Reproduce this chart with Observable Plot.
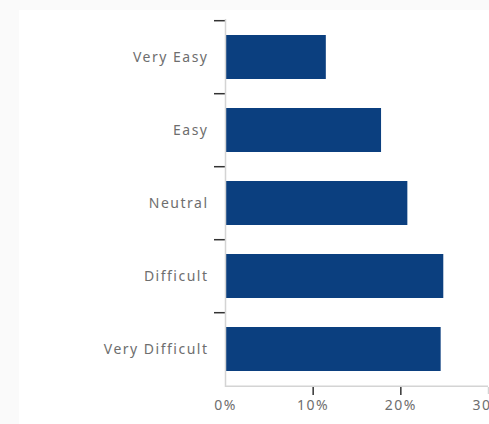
<!DOCTYPE html>
<html>
<head>
<meta charset="utf-8">
<script src="https://cdn.jsdelivr.net/npm/d3@7"></script>
<script src="https://cdn.jsdelivr.net/npm/@observablehq/plot@0.6"></script>
<style>
  html, body { margin: 0; padding: 0; background: #fafafa; width: 489px; height: 424px; overflow: hidden; }
  #panel { position: absolute; left: 19px; top: 10px; right: 0; bottom: 0; background: #ffffff; }
  #chart { position: absolute; left: 0; top: 0; }
  #chart text { letter-spacing: 1.5px; }
</style>
</head>
<body>
<div id="panel"></div>
<div id="chart"></div>
<script>
const categories = ["Very Easy", "Easy", "Neutral", "Difficult", "Very Difficult"];
const shares = [0.115, 0.178, 0.208, 0.249, 0.246];
const xTicks = [0, 0.1, 0.2, 0.3];

const data = categories.map((c, i) => ({category: c, share: shares[i]}));

const W = 489, H = 424, mT = 19, mB = 37, mL = 225, mR = 1;
const step = (H - mT - mB) / categories.length;
const pct = d => Math.round(d * 100) + "%";

const plot = Plot.plot({
  width: W,
  height: H,
  marginTop: mT,
  marginBottom: mB,
  marginLeft: mL,
  marginRight: mR,
  style: {background: "transparent", overflow: "visible", fontFamily: "'Noto Sans', sans-serif", fontSize: "14px", color: "#6e6e6e"},
  x: {domain: [0, 0.3], label: null},
  y: {domain: categories, paddingInner: 0.4, paddingOuter: 0.2, label: null},
  marks: [
    Plot.barX(data, {y: "category", x: "share", fill: "#0b3f7f"}),
    Plot.axisY({tickSize: 11, tickPadding: 0, text: null, dy: -step / 2, stroke: "#333", strokeWidth: 1.5, label: null}),
    Plot.axisY({tickSize: 0, tickPadding: 17, label: null}),
    Plot.axisX({ticks: xTicks.slice(1, 3), text: null, tickSize: 8, stroke: "#333", strokeWidth: 1.5, label: null}),
    Plot.axisX({ticks: xTicks.slice(3), text: null, tickSize: 7, stroke: "#d4d4d4", strokeWidth: 1.5, label: null}),
    Plot.axisX({ticks: xTicks, tickFormat: pct, tickSize: 0, tickPadding: 13, label: null}),
    Plot.ruleX([0], {stroke: "#d4d4d4", strokeWidth: 1.5}),
    Plot.ruleY([categories[categories.length - 1]], {y: d => d, dy: step / 2, x1: 0, x2: 0.3, stroke: "#d4d4d4", strokeWidth: 1.5})
  ]
});
document.getElementById("chart").appendChild(plot);
</script>
</body>
</html>
